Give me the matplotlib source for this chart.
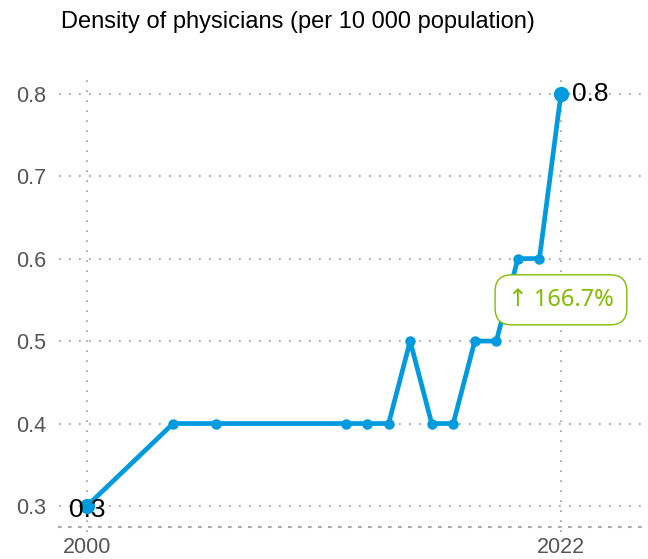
import matplotlib
matplotlib.use("Agg")
import matplotlib.pyplot as plt

# physician density series
years = [2000, 2004, 2006, 2012, 2013, 2014, 2015, 2016, 2017, 2018, 2019, 2020, 2021, 2022]
density = [0.3, 0.4, 0.4, 0.4, 0.4, 0.4, 0.5, 0.4, 0.4, 0.5, 0.5, 0.6, 0.6, 0.8]
y_ticks = [0.3, 0.4, 0.5, 0.6, 0.7, 0.8]
x_ticks = [2000, 2022]
title = "Density of physicians (per 10 000 population)"

blue = "#009ade"
green = "#80bc00"
grid_col = "#aaaaaa"
dots = (0, (0.8, 4.0))

plt.rcParams["font.family"] = ["Liberation Sans", "DejaVu Sans"]

fig = plt.figure(figsize=(6.48, 5.59), dpi=100)
ax = fig.add_axes([59 / 648, 0.0572, 1 - 59 / 648, 0.8015])

ax.set_xlim(1998.70, 2026.04)
ax.set_ylim(0.2745, 0.8178)

for y in y_ticks:
    ax.axhline(y, color=grid_col, lw=1.5, linestyle=dots, zorder=1)
for x in x_ticks:
    ax.axvline(x, ymin=-0.01, ymax=1, color=grid_col, lw=1.5, linestyle=dots,
               zorder=1, clip_on=False)

for side in ["top", "right", "left"]:
    ax.spines[side].set_visible(False)
ax.spines["bottom"].set_color(grid_col)
ax.spines["bottom"].set_linewidth(1.5)
ax.spines["bottom"].set_linestyle(dots)

ax.plot(years, density, color=blue, lw=3.4, marker="o", ms=6.5,
        solid_joinstyle="round", zorder=3)
ax.plot([years[0], years[-1]], [density[0], density[-1]], "o", color=blue,
        ms=10, zorder=4)

ax.text(years[0], density[0] - 0.005, f"{density[0]:g}", fontsize=19,
        ha="center", va="center", color="black", zorder=5)
ax.text(years[-1] + 0.5, density[-1], f"{density[-1]:g}", fontsize=19,
        ha="left", va="center", color="black", zorder=5)

change = (density[-1] - density[0]) / density[0] * 100
ax.text(years[-1], 0.55, f"\u2191 {change:.1f}%", fontsize=17, color=green,
        ha="center", va="center", family=["Noto Sans", "DejaVu Sans"], zorder=6,
        bbox=dict(boxstyle="round,pad=0.55,rounding_size=0.7", fc="white",
                  ec=green, lw=1))

ax.set_yticks(y_ticks)
ax.set_yticklabels([f"{v:g}" for v in y_ticks])
ax.set_xticks(x_ticks)
ax.tick_params(length=0, labelsize=15.5, colors="#555555", pad=9)
ax.tick_params(axis="x", pad=7)

fig.text(61 / 648, 1 - 22 / 559, title, fontsize=17, ha="left", va="center")

fig.savefig("out.png", dpi=100)
